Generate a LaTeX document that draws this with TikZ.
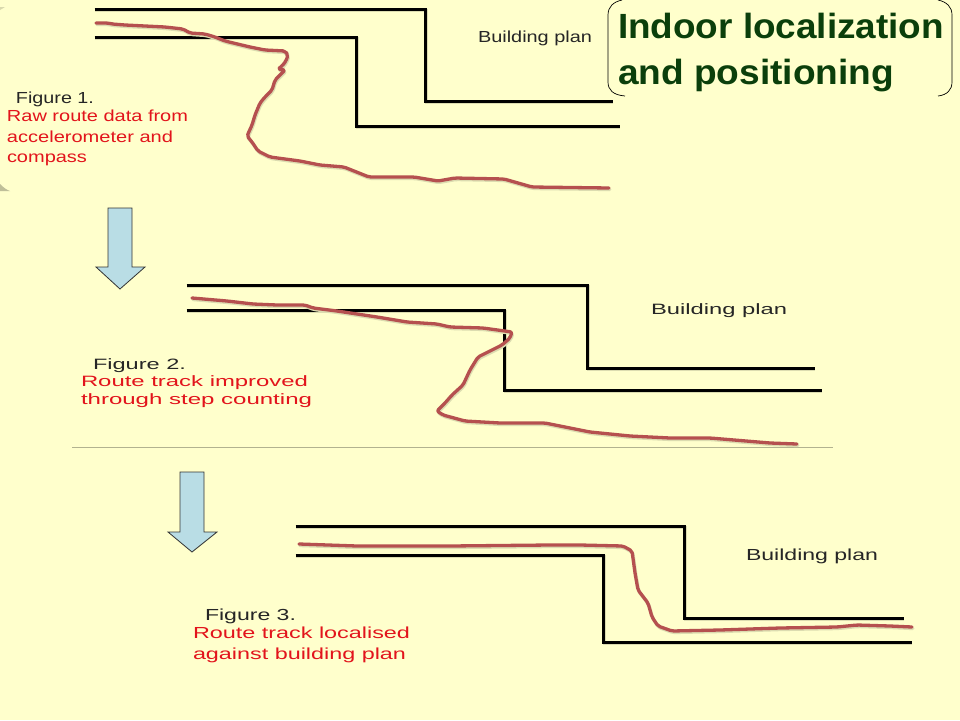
\documentclass[tikz,border=0pt]{standalone}
\usepackage{fontspec}
\usepackage{graphicx}
\setmainfont{Liberation Sans}
\definecolor{paper}{HTML}{FFFFCC}
\definecolor{routecol}{HTML}{B5504F}
\definecolor{shadowcol}{HTML}{DCDCB0}
\definecolor{redtext}{HTML}{E2141C}
\definecolor{titlegreen}{HTML}{0B3F0B}
\definecolor{arrowfill}{HTML}{B9DDE5}
\newcommand{\fitline}[3]{\resizebox{#1pt}{\height}{\fontsize{#2pt}{#2pt}\selectfont #3}}
\tikzset{
  txt/.style={anchor=base west,inner sep=0pt,outer sep=0pt},
  blacktxt/.style={txt,text=black!85},
  redtxt/.style={txt,text=redtext},
  titletxt/.style={txt,text=titlegreen,font=\bfseries},
  wall/.style={line width=3pt,draw=black,line join=miter,line cap=butt,shift={(-0.5,-0.3)}},
  wallshadow/.style={line width=3pt,draw=shadowcol,line join=miter,shift={(0.3,0.9)}},
  route/.style={line width=3.3pt,draw=routecol,line join=round,line cap=round,rounded corners=2pt},
  routeshadow/.style={line width=3.3pt,draw=shadowcol,line join=round,line cap=round,rounded corners=2pt,shift={(0.8,1.5)}},
  downarrow/.style={draw=black!80,line width=0.8pt,fill=arrowfill,line join=miter},
  bracket/.style={draw=black,line width=0.7pt},
}
\begin{document}
\begin{tikzpicture}[x=1pt,y=-1pt]
\useasboundingbox (0,0) rectangle (960,720);
\fill[paper] (0,0) rectangle (960,720);
% faint corner remnants
\fill[black!25!paper] (0,184) .. controls (4,188) and (7,190) .. (10,191) -- (0,191) -- cycle;
\fill[black!15!paper] (0,10) -- (5,7) -- (0,7) -- cycle;
% separator
\draw[black!30!paper,line width=1pt] (72,447) -- (833,447);

% building plan 1
\def\wallA{(95,10) -- (426,10) -- (426,102) -- (613,102)}
\def\wallB{(95,38) -- (357,38) -- (357,127) -- (620,127)}
\draw[wallshadow] \wallA; \draw[wallshadow] \wallB;
\draw[wall] \wallA; \draw[wall] \wallB;
\def\routeA{(96,23) -- (108,23) -- (112,24) -- (125,25) -- (165,27) -- (183,29) -- (190,33) -- (205,34) -- (215,37) -- (225,41) -- (250,47) -- (265,50) -- (285,51) -- (288,55) -- (286,61) -- (282,66) -- (278,69) -- (285,70) -- (280,75) -- (275,80) -- (272,90) -- (265,97) -- (260,103) -- (255,115) -- (252,125) -- (247,136) -- (252,142) -- (258,151) -- (270,157) -- (285,159) -- (300,161) -- (320,165) -- (344,167) -- (369,177) -- (414,177) -- (438,181) -- (455,178) -- (504,179) -- (532,187) -- (609,188)}
\draw[routeshadow] \routeA;
\draw[route] \routeA;

% building plan 2
\def\wallC{(187,286) -- (588,286) -- (588,369) -- (815,369)}
\def\wallD{(187,311) -- (505,311) -- (505,391) -- (822,391)}
\draw[wallshadow] \wallC; \draw[wallshadow] \wallD;
\draw[wall] \wallC; \draw[wall] \wallD;
\def\routeB{(192,298) -- (227,301) -- (253,304) -- (277,305) -- (305,305) -- (313,308) -- (337,311) -- (377,317) -- (407,322) -- (437,324) -- (450,327) -- (483,328) -- (512,332) -- (510,338) -- (502,345) -- (478,357) -- (470,370) -- (463,385) -- (452,395) -- (445,403) -- (437,411) -- (443,415) -- (465,421) -- (500,423) -- (545,423) -- (590,432) -- (630,436) -- (670,438) -- (710,438) -- (770,443) -- (797,444)}
\draw[routeshadow] \routeB;
\draw[route] \routeB;

% building plan 3
\def\wallE{(296,527) -- (685,527) -- (685,619) -- (904,619)}
\def\wallF{(296,556) -- (604,556) -- (604,643) -- (912,643)}
\draw[wallshadow] \wallE; \draw[wallshadow] \wallF;
\draw[wall] \wallE; \draw[wall] \wallF;
\def\routeC{(299,544) -- (357,546) -- (450,546) -- (550,545) -- (580,545) -- (623,546) -- (632,551) -- (635,573) -- (638,590) -- (648,603) -- (652,617) -- (658,626) -- (672,631) -- (720,630) -- (780,628) -- (837,627) -- (857,625) -- (890,626) -- (912,627)}
\draw[routeshadow] \routeC;
\draw[route] \routeC;

% arrows
\draw[downarrow] (108,208) -- (132,208) -- (132,267) -- (145,267) -- (120,289) -- (96,267) -- (108,267) -- cycle;
\draw[downarrow] (180,472) -- (204,472) -- (204,532) -- (217,532) -- (192,552) -- (168,532) -- (180,532) -- cycle;

% title brackets
\draw[bracket] (622,0) .. controls (613,2) and (608,7) .. (608,15) -- (608,82) .. controls (608,90) and (613,95) .. (625,96);
\draw[bracket] (938,0) .. controls (947,2) and (952,7) .. (952,15) -- (952,82) .. controls (952,90) and (947,95) .. (938,96);
\node[titletxt] (titleA) at (618,38) {\fitline{326}{35}{Indoor localization}};
\node[titletxt] (titleB) at (618,84) {\fitline{276}{35}{and positioning}};

% figure 1 labels
\node[blacktxt] (plan1) at (478,42) {\fitline{114}{16}{Building plan}};
\node[blacktxt] (fig1) at (16,103) {\fitline{78}{16}{Figure 1.}};
\node[redtxt] (cap1a) at (7,121) {\fitline{181}{16}{Raw route data from}};
\node[redtxt] (cap1b) at (7,142) {\fitline{166}{16}{accelerometer and}};
\node[redtxt] (cap1c) at (7,162) {\fitline{80}{16}{compass}};

% figure 2 labels
\node[blacktxt] (plan2) at (651,314) {\fitline{136}{15}{Building plan}};
\node[blacktxt] (fig2) at (93,369) {\fitline{93}{15}{Figure 2.}};
\node[redtxt] (cap2a) at (81,386) {\fitline{227}{15}{Route track improved}};
\node[redtxt] (cap2b) at (81,404) {\fitline{231}{15}{through step counting}};

% figure 3 labels
\node[blacktxt] (plan3) at (746,560) {\fitline{132}{16}{Building plan}};
\node[blacktxt] (fig3) at (205,620) {\fitline{91}{16}{Figure 3.}};
\node[redtxt] (cap3a) at (193,638) {\fitline{217}{16}{Route track localised}};
\node[redtxt] (cap3b) at (193,659) {\fitline{213}{16}{against building plan}};
\end{tikzpicture}
\end{document}
